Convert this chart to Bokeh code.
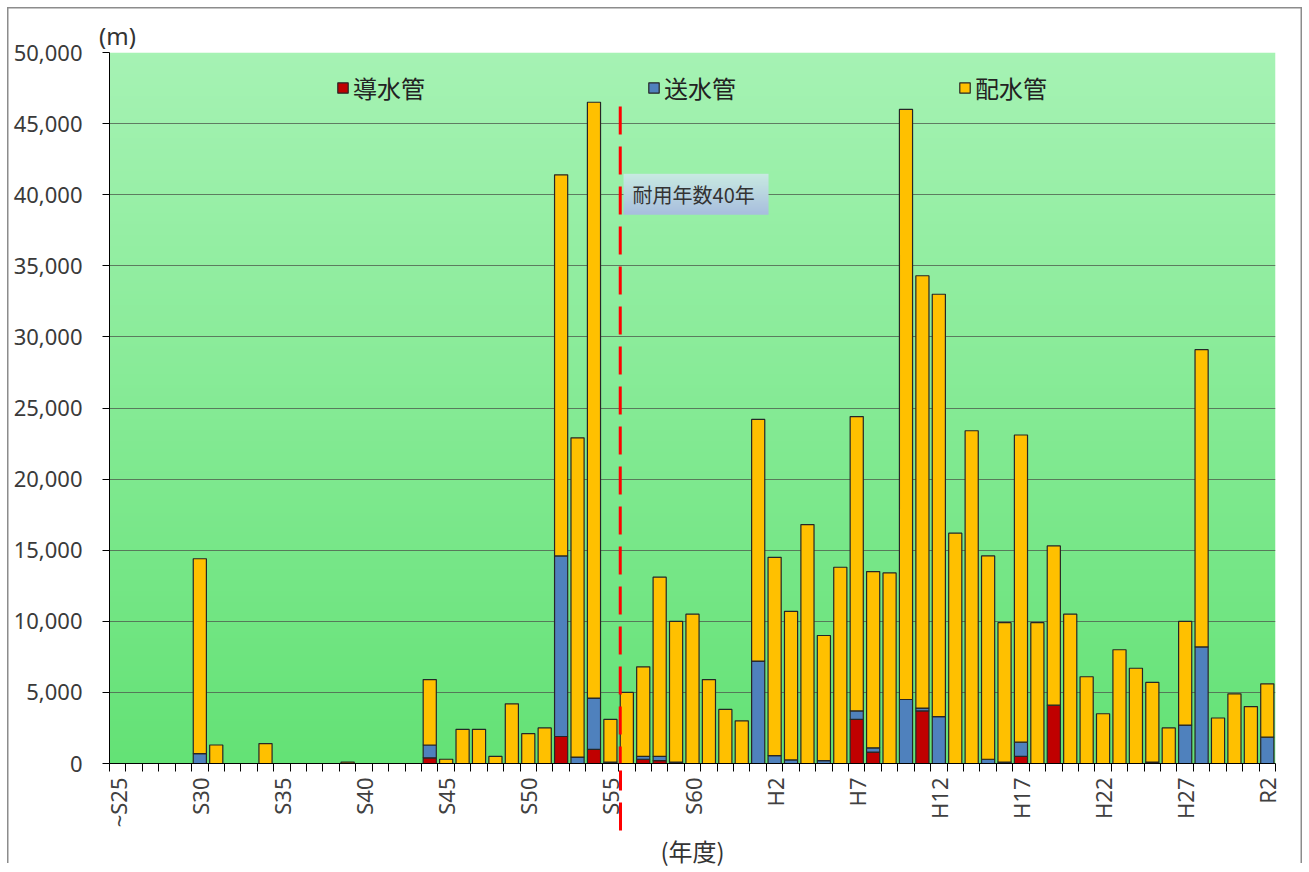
import math
import numpy as np
from bokeh.plotting import figure
from bokeh.models import (ColumnDataSource, Range1d, FixedTicker, NumeralTickFormatter,
                          Legend, LegendItem, Label, Arrow, LinearAxis)
from bokeh.embed import file_html
from bokeh.resources import INLINE

# Fiscal years: ~S25 ... S63, H1 ... H30, R1, R2
years = ["~S25"] + [f"S{n}" for n in range(26, 64)] + [f"H{n}" for n in range(1, 31)] + ["R1", "R2"]

# Installed pipe length per year (m)
dousui = [   # 導水管
    0, 0, 0, 0, 0, 0, 0, 0, 0, 0,
    0, 0, 0, 0, 0, 0, 0, 0, 0, 400,
    0, 0, 0, 0, 0, 0, 0, 1900, 0, 1000,
    0, 0, 300, 200, 0, 0, 0, 0, 0, 0,
    0, 0, 0, 0, 0, 3100, 800, 0, 0, 3700,
    0, 0, 0, 0, 0, 500, 0, 4100, 0, 0,
    0, 0, 0, 100, 0, 0, 0, 0, 0, 0,
    0,
]
sousui = [   # 送水管
    0, 0, 0, 0, 0, 700, 0, 0, 0, 0,
    0, 0, 0, 0, 0, 0, 0, 0, 0, 900,
    0, 0, 0, 0, 0, 0, 0, 12700, 450, 3600,
    100, 0, 200, 300, 100, 0, 0, 0, 0, 7200,
    550, 250, 0, 200, 0, 600, 300, 0, 4500, 200,
    3300, 0, 0, 300, 100, 1000, 0, 0, 0, 0,
    0, 0, 0, 0, 0, 2700, 8200, 0, 0, 0,
    1850,
]
haisui = [   # 配水管
    0, 0, 0, 0, 0, 13700, 1300, 0, 0, 1400,
    0, 0, 0, 0, 100, 0, 0, 0, 0, 4600,
    300, 2400, 2400, 500, 4200, 2100, 2500, 26800, 22450, 41900,
    3000, 5000, 6300, 12600, 9900, 10500, 5900, 3800, 3000, 17000,
    13950, 10450, 16800, 8800, 13800, 20700, 12400, 13400, 41500, 30400,
    29700, 16200, 23400, 14300, 9800, 21600, 9900, 11200, 10500, 6100,
    3500, 8000, 6700, 5600, 2500, 7300, 20900, 3200, 4900, 4000,
    3750,
]
series = ["導水管", "送水管", "配水管"]
colors = ["#C00000", "#4F81BD", "#FFC000"]

labelled_every = 5
service_life_pos = 30.6      # boundary just after S55 (R2 - 40 years)
service_life_text = "耐用年数40年"

x = list(range(len(years)))
src = ColumnDataSource(dict(x=x, 導水管=dousui, 送水管=sousui, 配水管=haisui))

n = len(years)
FRAME_L, FRAME_T, FRAME_W, FRAME_H = 109, 52, 1166, 711
p = figure(frame_width=FRAME_W, frame_height=FRAME_H, width=1309, height=872,
           x_range=Range1d(-0.5, n - 0.5), y_range=Range1d(0, 50000),
           x_axis_type=None,
           output_backend="svg", toolbar_location=None,
           min_border_left=FRAME_L, min_border_right=1309 - FRAME_L - FRAME_W,
           min_border_top=FRAME_T, min_border_bottom=872 - FRAME_T - FRAME_H,
           background_fill_color=None, border_fill_color=None)
p.outline_line_color = None
# thin grey frame on the top, left and right of the chart, inset from the edge
p.styles = {"background-color": "white",
            "box-shadow": ("inset 0 0 0 7px white, inset 0 -9px 0 0 white, "
                           "inset 0 0 0 8.5px #8c8c8c")}

# vertical green gradient behind the plot area
rows = 256
img = np.zeros((rows, 1), dtype=np.uint32)
view = img.view(dtype=np.uint8).reshape((rows, 1, 4))
top_c = np.array([166, 243, 180])
bot_c = np.array([100, 226, 118])
for i in range(rows):
    t = i / (rows - 1)
    c = bot_c + (top_c - bot_c) * t
    view[i, 0, :3] = c.astype(np.uint8)
    view[i, 0, 3] = 255
p.image_rgba(image=[img], x=-0.5, y=0, dw=n, dh=50000, level="image")

# gridlines
p.ygrid.grid_line_color = "#4f5f4f"
p.ygrid.grid_line_alpha = 0.8
p.ygrid.grid_line_width = 1.2

# stacked bars
bars = p.vbar_stack(series, x="x", width=0.8, color=colors, source=src,
                    line_color="#262626", line_width=1.2)

# y axis
p.yaxis.ticker = FixedTicker(ticks=list(range(0, 50001, 5000)))
p.yaxis.formatter = NumeralTickFormatter(format="0,0")
p.yaxis.major_label_text_font = "Noto Sans"
p.yaxis.major_label_text_font_size = "22px"
p.yaxis.major_label_text_color = "#3a3a3a"
p.yaxis.major_label_standoff = 20
p.yaxis.major_tick_out = 7
p.yaxis.major_tick_in = 0
p.yaxis.minor_tick_line_color = None
p.yaxis.axis_line_color = "black"
p.yaxis.major_tick_line_color = "black"

# x axis: labels every 5 years, ticks on every year boundary
label_pos = list(range(0, n, labelled_every))
year_axis = LinearAxis(
    ticker=FixedTicker(ticks=label_pos, minor_ticks=[i - 0.5 for i in range(n + 1)]),
    major_label_overrides={i: years[i] for i in label_pos},
    major_label_orientation=math.pi / 2,
    major_label_text_font="Noto Sans", major_label_text_font_size="22px",
    major_label_text_color="#404040",
    major_tick_line_color=None, major_tick_out=8, major_label_standoff=6,
    minor_tick_line_color="black", minor_tick_out=8, minor_tick_in=0,
    axis_line_color="black")
p.add_layout(year_axis, "below")

# second, bare axis below the year labels: carries the lower end of the
# service-life line and the axis title
life_axis = LinearAxis(
    ticker=FixedTicker(ticks=[service_life_pos], minor_ticks=[]),
    major_label_overrides={service_life_pos: ""},
    major_label_text_font_size="1px", major_label_standoff=0,
    major_tick_line_color="#FF0000", major_tick_line_width=3,
    major_tick_line_dash="28 12", major_tick_in=60, major_tick_out=0,
    minor_tick_line_color=None, axis_line_color=None,
    axis_label="(年度)", axis_label_text_font="Noto Sans CJK JP",
    axis_label_text_font_size="24px", axis_label_text_font_style="normal",
    axis_label_text_color="#333333", axis_label_standoff=2)
p.add_layout(life_axis, "below")

# unit label (outside the plot area)
p.add_layout(Label(x=117, y=35, x_units="canvas", y_units="canvas", text="(m)",
                   text_align="center", text_baseline="middle",
                   text_font="Noto Sans", text_font_size="24px", text_color="#333333"), "above")

# legend
legend = Legend(items=[LegendItem(label=s, renderers=[r]) for s, r in zip(series, bars)],
                orientation="horizontal", location=(227, 658),
                glyph_width=13, glyph_height=13, label_standoff=4, spacing=222,
                label_text_font="Noto Sans CJK JP", label_text_font_size="24px",
                label_text_color="#222222", label_height=28,
                border_line_color=None, background_fill_alpha=0, padding=0, margin=0)
p.add_layout(legend)

# service-life marker inside the plot area
p.add_layout(Arrow(end=None, x_start=service_life_pos, y_start=46200,
                   x_end=service_life_pos, y_end=0,
                   line_color="#FF0000", line_width=3, line_dash="28 12"))

box_rows = 64
bimg = np.zeros((box_rows, 1), dtype=np.uint32)
bview = bimg.view(dtype=np.uint8).reshape((box_rows, 1, 4))
b_top = np.array([202, 236, 226])
b_bot = np.array([168, 190, 222])
for i in range(box_rows):
    t = i / (box_rows - 1)
    c = b_bot + (b_top - b_bot) * t
    bview[i, 0, :3] = c.astype(np.uint8)
    bview[i, 0, 3] = 255
p.image_rgba(image=[bimg], x=30.8, y=38590, dw=8.83, dh=2880)
p.add_layout(Label(x=31.35, y=40000, text=service_life_text, text_baseline="middle",
                   text_font="Noto Sans CJK JP", text_font_size="20px", text_color="#333333"))

open("out.html", "w").write(file_html(p, INLINE))
